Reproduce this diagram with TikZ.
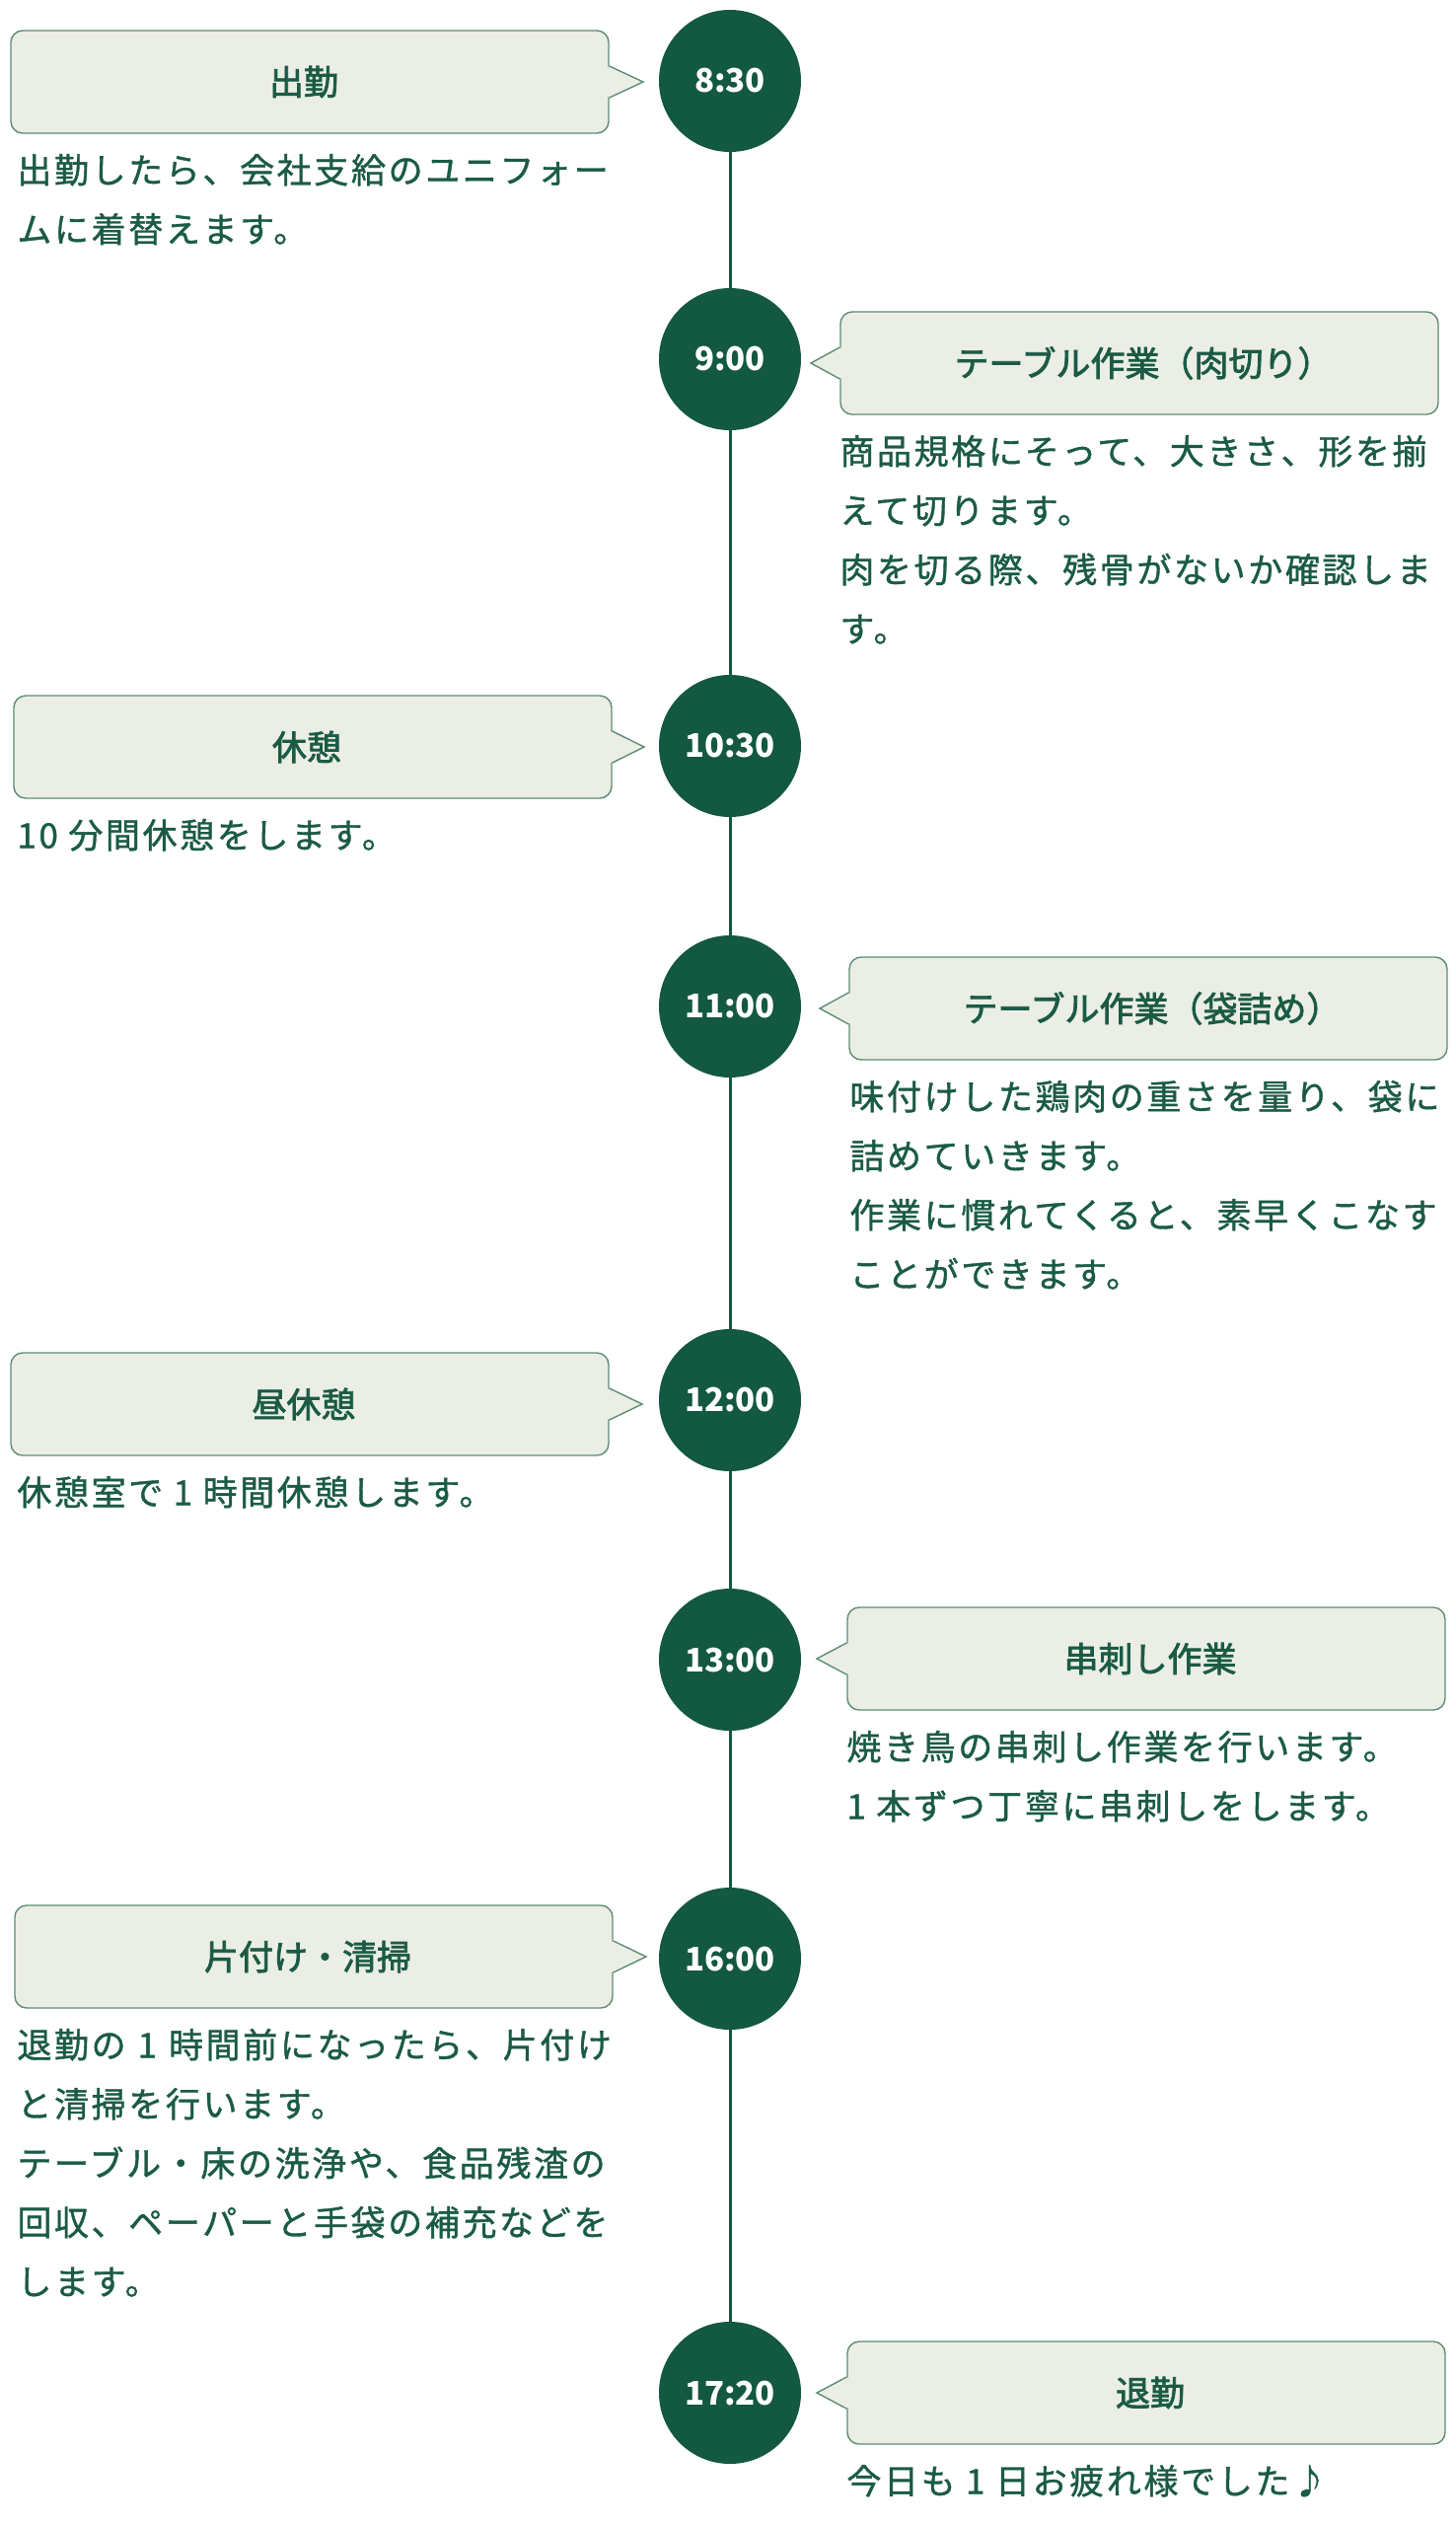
\documentclass[tikz,border=0pt]{standalone}
\usepackage{fontspec}
\setmainfont{Noto Sans CJK JP}
\newfontfamily\jpbody[LetterSpace=7.5,FakeBold=1.1]{Noto Sans CJK JP}
\newfontfamily\jptitle[FakeBold=2.2]{Noto Sans CJK JP}
\newfontfamily\jpnum{Noto Sans CJK JP}
\definecolor{dgreen}{HTML}{135840}
\definecolor{tgreen}{HTML}{1B5B45}
\definecolor{boxfill}{HTML}{EBEEE5}
\definecolor{boxline}{HTML}{5E8C75}
\tikzset{
  timec/.style={circle, fill=dgreen, minimum size=72pt, inner sep=0pt, text=white,
    font=\jpnum\bfseries\fontsize{16.5}{16.5}\selectfont},
  callbox/.style={draw=boxline, fill=boxfill, rounded corners=6pt, line width=0.7pt,
    minimum height=52pt, minimum width=303pt, inner sep=0pt, text=tgreen,
    font=\jptitle\fontsize{17.5}{17.5}\selectfont},
  bodytext/.style={anchor=west, inner sep=0pt, text=tgreen,
    font=\jpbody\fontsize{17.5}{20}\selectfont, text height=15.5pt, text depth=2pt},
  timeline/.style={draw=dgreen, line width=1.5pt},
  pointerfill/.style={fill=boxfill},
  pointerline/.style={draw=boxline, line width=0.7pt, line join=miter},
}
% #1 name, #2 center x, #3 center y, #4 tip x, #5 title
\newcommand\lcallout[5]{%
  \node[callbox] (#1) at (#2,#3) {\hspace*{-6pt}#5};
  \coordinate (#1-tip) at (#4,#3);
  \fill[pointerfill] ([xshift=-1.2pt,yshift=8pt]#1.east) -- (#1-tip) -- ([xshift=-1.2pt,yshift=-8pt]#1.east) -- cycle;
  \draw[pointerline] ([yshift=8pt]#1.east) -- (#1-tip) -- ([yshift=-8pt]#1.east);
}
\newcommand\rcallout[5]{%
  \node[callbox] (#1) at (#2,#3) {\hspace*{4pt}#5};
  \coordinate (#1-tip) at (#4,#3);
  \fill[pointerfill] ([xshift=1.2pt,yshift=8pt]#1.west) -- (#1-tip) -- ([xshift=1.2pt,yshift=-8pt]#1.west) -- cycle;
  \draw[pointerline] ([yshift=8pt]#1.west) -- (#1-tip) -- ([yshift=-8pt]#1.west);
}
\newcommand\bodylines[4]{%
  \foreach \ln [count=\i from 0] in {#4} {%
    \node[bodytext] (#1-\i) at (#2,{#3+60*\i}) {\ln};
  }%
}
\begin{document}
\begin{tikzpicture}[x=0.5pt,y=-0.5pt]
\useasboundingbox[fill=white] (0,0) rectangle (1476,2560);

% time circles
\node[timec] (c1) at (740,82) {8:30};
\node[timec] (c2) at (740,364) {9:00};
\node[timec] (c3) at (740,756) {10:30};
\node[timec] (c4) at (740,1020) {11:00};
\node[timec] (c5) at (740,1419) {12:00};
\node[timec] (c6) at (740,1682) {13:00};
\node[timec] (c7) at (740,1985) {16:00};
\node[timec] (c8) at (740,2425) {17:20};

\draw[timeline] (c1) -- (c2);
\draw[timeline] (c2) -- (c3);
\draw[timeline] (c3) -- (c4);
\draw[timeline] (c4) -- (c5);
\draw[timeline] (c5) -- (c6);
\draw[timeline] (c6) -- (c7);
\draw[timeline] (c7) -- (c8);

% callouts
\lcallout{b1}{314}{83}{652}{出勤}
\rcallout{b2}{1155}{368}{822}{テーブル作業（肉切り）}
\lcallout{b3}{317}{757}{653}{休憩}
\rcallout{b4}{1164}{1022}{831}{テーブル作業（袋詰め）}
\lcallout{b5}{314}{1423}{651}{昼休憩}
\rcallout{b6}{1162}{1681}{828}{串刺し作業}
\lcallout{b7}{318}{1983}{655}{片付け・清掃}
\rcallout{b8}{1162}{2425}{828}{退勤}

% body texts
\bodylines{d1}{17}{172}{出勤したら、会社支給のユニフォー,ムに着替えます。}
\bodylines{d2}{851}{457}{商品規格にそって、大きさ、形を揃,えて切ります。,肉を切る際、残骨がないか確認しま,す。}
\bodylines{d3}{17}{846}{10 分間休憩をします。}
\bodylines{d4}{861}{1111}{味付けした鶏肉の重さを量り、袋に,詰めていきます。,作業に慣れてくると、素早くこなす,ことができます。}
\bodylines{d5}{17}{1512}{休憩室で 1 時間休憩します。}
\bodylines{d6}{858}{1770}{焼き鳥の串刺し作業を行います。,1 本ずつ丁寧に串刺しをします。}
\bodylines{d7}{17}{2072}{退勤の\hspace{6pt}1\hspace{6pt}時間前になったら、片付け,と清掃を行います。,テーブル・床の洗浄や、食品残渣の,回収、ペーパーと手袋の補充などを,します。}
\bodylines{d8}{858}{2514}{今日も 1 日お疲れ様でした♪}
\end{tikzpicture}
\end{document}
